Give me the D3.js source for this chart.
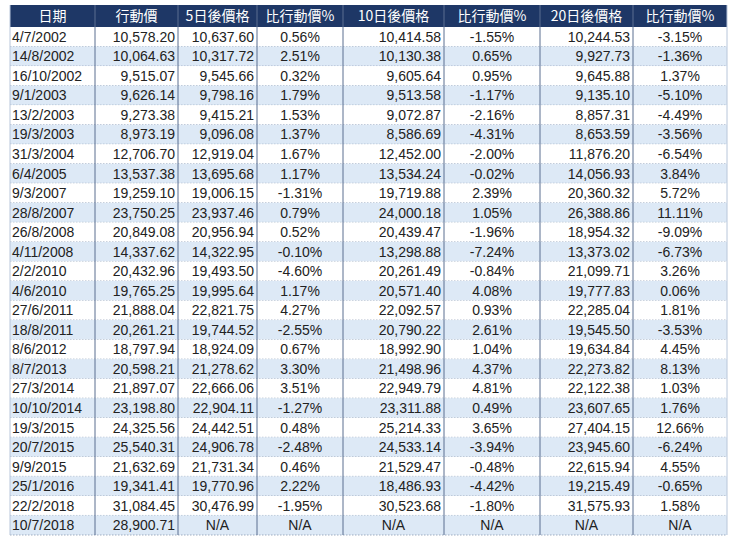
<!DOCTYPE html>
<html><head><meta charset="utf-8">
<script src="https://cdn.jsdelivr.net/npm/d3@7"></script>
<style>body{margin:0;background:#fff}</style>
</head><body><svg id="c" width="737" height="540"></svg>
<script>
const headers=["日期","行動價","5日後價格","比行動價%","10日後價格","比行動價%","20日後價格","比行動價%"];
const dates=["4/7/2002","14/8/2002","16/10/2002","9/1/2003","13/2/2003","19/3/2003","31/3/2004","6/4/2005","9/3/2007","28/8/2007","26/8/2008","4/11/2008","2/2/2010","4/6/2010","27/6/2011","18/8/2011","8/6/2012","8/7/2013","27/3/2014","10/10/2014","19/3/2015","20/7/2015","9/9/2015","25/1/2016","22/2/2018","10/7/2018"];
const actionPrice=["10,578.20","10,064.63","9,515.07","9,626.14","9,273.38","8,973.19","12,706.70","13,537.38","19,259.10","23,750.25","20,849.08","14,337.62","20,432.96","19,765.25","21,888.04","20,261.21","18,797.94","20,598.21","21,897.07","23,198.80","24,325.56","25,540.31","21,632.69","19,341.41","31,084.45","28,900.71"];
const price5=["10,637.60","10,317.72","9,545.66","9,798.16","9,415.21","9,096.08","12,919.04","13,695.68","19,006.15","23,937.46","20,956.94","14,322.95","19,493.50","19,995.64","22,821.75","19,744.52","18,924.09","21,278.62","22,666.06","22,904.11","24,442.51","24,906.78","21,731.34","19,770.96","30,476.99","N/A"];
const pct5=["0.56%","2.51%","0.32%","1.79%","1.53%","1.37%","1.67%","1.17%","-1.31%","0.79%","0.52%","-0.10%","-4.60%","1.17%","4.27%","-2.55%","0.67%","3.30%","3.51%","-1.27%","0.48%","-2.48%","0.46%","2.22%","-1.95%","N/A"];
const price10=["10,414.58","10,130.38","9,605.64","9,513.58","9,072.87","8,586.69","12,452.00","13,534.24","19,719.88","24,000.18","20,439.47","13,298.88","20,261.49","20,571.40","22,092.57","20,790.22","18,992.90","21,498.96","22,949.79","23,311.88","25,214.33","24,533.14","21,529.47","18,486.93","30,523.68","N/A"];
const pct10=["-1.55%","0.65%","0.95%","-1.17%","-2.16%","-4.31%","-2.00%","-0.02%","2.39%","1.05%","-1.96%","-7.24%","-0.84%","4.08%","0.93%","2.61%","1.04%","4.37%","4.81%","0.49%","3.65%","-3.94%","-0.48%","-4.42%","-1.80%","N/A"];
const price20=["10,244.53","9,927.73","9,645.88","9,135.10","8,857.31","8,653.59","11,876.20","14,056.93","20,360.32","26,388.86","18,954.32","13,373.02","21,099.71","19,777.83","22,285.04","19,545.50","19,634.84","22,273.82","22,122.38","23,607.65","27,404.15","23,945.60","22,615.94","19,215.49","31,575.93","N/A"];
const pct20=["-3.15%","-1.36%","1.37%","-5.10%","-4.49%","-3.56%","-6.54%","3.84%","5.72%","11.11%","-9.09%","-6.73%","3.26%","0.06%","1.81%","-3.53%","4.45%","8.13%","1.03%","1.76%","12.66%","-6.24%","4.55%","-0.65%","1.58%","N/A"];

const cols=[dates,actionPrice,price5,pct5,price10,pct10,price20,pct20];
const edges=[10,95,178,257,343,444,540,633,727];
const align=["start","end","end","middle","end","middle","end","middle"];
const svg=d3.select("#c");
const headTop=5, headH=22;
const y=d3.scaleBand().domain(d3.range(dates.length)).range([headTop+headH,535]);
const font="'Liberation Sans Narrow','Liberation Sans',Arial,sans-serif";

// header
svg.append("rect").attr("x",edges[0]).attr("y",headTop).attr("width",edges[8]-edges[0]).attr("height",headH).attr("fill","#1e3766");
headers.forEach((h,i)=>{
  svg.append("text").attr("x",(edges[i]+edges[i+1])/2).attr("y",headTop+headH/2+5)
   .attr("text-anchor","middle").attr("fill","#fff").attr("font-size",14)
   .attr("font-family","'Noto Sans CJK TC',"+font).text(h);
});
// rows
dates.forEach((d,r)=>{
  svg.append("rect").attr("x",edges[0]).attr("y",y(r)).attr("width",edges[8]-edges[0]).attr("height",y.bandwidth())
   .attr("fill",r%2? "#dde9f6":"#ffffff");
  svg.append("line").attr("x1",edges[0]).attr("x2",edges[8]).attr("y1",y(r)+y.bandwidth()).attr("y2",y(r)+y.bandwidth())
   .attr("stroke","#8a9bb3").attr("stroke-width",0.8).attr("stroke-dasharray","1.5,1.5");
});
// vertical lines
edges.slice(1,8).forEach(x=>{
  svg.append("line").attr("x1",x).attr("x2",x).attr("y1",headTop).attr("y2",y.range()[1]).attr("stroke","#5b6f90").attr("stroke-width",1);
});
svg.append("line").attr("x1",edges[0]).attr("x2",edges[0]).attr("y1",headTop).attr("y2",y.range()[1]).attr("stroke","#b8c6da");
svg.append("line").attr("x1",edges[8]).attr("x2",edges[8]).attr("y1",headTop).attr("y2",y.range()[1]).attr("stroke","#b8c6da");
// text
cols.forEach((col,c)=>{
  col.forEach((v,r)=>{
    let x = align[c]==="start"? edges[c]+2 : align[c]==="end"? edges[c+1]-3 : (edges[c]+edges[c+1])/2;
    if(v==="N/A") x=(edges[c]+edges[c+1])/2;
    svg.append("text").attr("x",x).attr("y",y(r)+y.bandwidth()/2+5)
     .attr("text-anchor",v==="N/A"?"middle":align[c]).attr("fill","#222")
     .attr("font-size",14).attr("font-family",font).text(v);
  });
});
</script></body></html>
